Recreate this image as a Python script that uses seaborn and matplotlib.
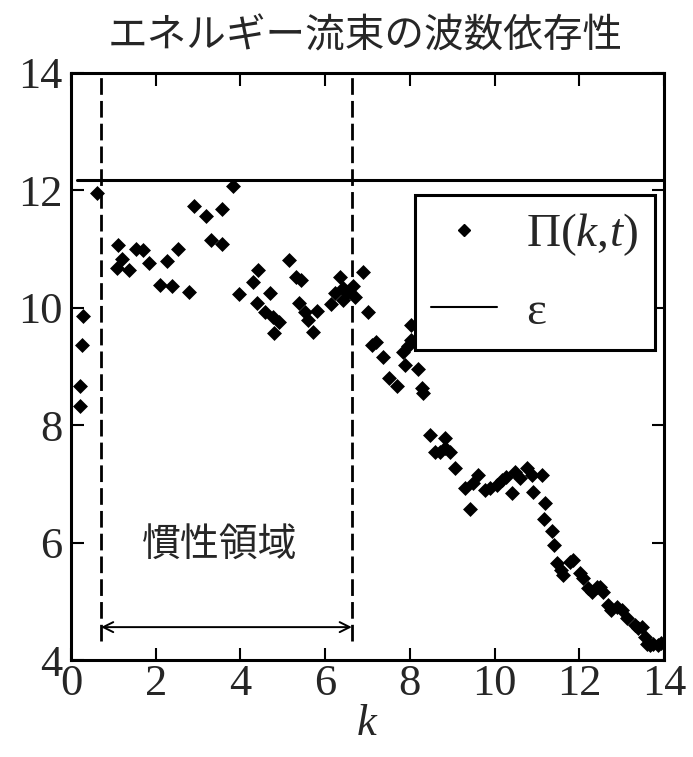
import numpy as np
import pandas as pd
import matplotlib
matplotlib.use("Agg")
import matplotlib.pyplot as plt
import seaborn as sns
from matplotlib.lines import Line2D

# ---- data ----
k_vals = [0.21, 0.21, 0.25, 0.28, 0.61, 1.09, 1.10, 1.21, 1.37, 1.53, 1.69, 1.84,
          2.10, 2.26, 2.38, 2.53, 2.79, 2.90, 3.18, 3.30, 3.57, 3.57, 3.83, 3.97,
          4.30, 4.40, 4.42, 4.58, 4.70, 4.78, 4.80, 4.92, 5.15, 5.31, 5.39, 5.42,
          5.52, 5.60, 5.71, 5.81, 6.15, 6.23, 6.35, 6.43, 6.43, 6.51, 6.66, 6.70,
          6.90, 7.00, 7.11, 7.20, 7.37, 7.51, 7.70, 7.84, 7.88, 7.95, 8.02, 8.02,
          8.20, 8.28, 8.30, 8.47, 8.59, 8.71, 8.83, 8.83, 8.95, 9.07, 9.30, 9.42,
          9.50, 9.62, 9.77, 9.89, 10.05, 10.17, 10.28, 10.40, 10.48, 10.60, 10.76,
          10.88, 10.91, 11.11, 11.19, 11.17, 11.35, 11.40, 11.47, 11.58, 11.61,
          11.78, 11.85, 12.02, 12.09, 12.21, 12.29, 12.41, 12.49, 12.57, 12.68,
          12.76, 12.88, 13.00, 13.12, 13.31, 13.39, 13.47, 13.55, 13.59, 13.67,
          13.75, 13.86, 13.92]
pi_vals = [8.33, 8.67, 9.37, 9.86, 11.95, 10.68, 11.07, 10.83, 10.64, 11.01, 10.98, 10.76,
           10.39, 10.79, 10.37, 11.01, 10.27, 11.73, 11.56, 11.15, 11.68, 11.09, 12.07, 10.23,
           10.44, 10.08, 10.64, 9.93, 10.26, 9.85, 9.57, 9.75, 10.81, 10.52, 10.08, 10.47,
           9.92, 9.80, 9.58, 9.95, 10.06, 10.25, 10.52, 10.33, 10.13, 10.25, 10.37, 10.19,
           10.61, 9.92, 9.37, 9.42, 9.17, 8.80, 8.66, 9.25, 9.03, 9.35, 9.45, 9.71,
           8.95, 8.63, 8.55, 7.83, 7.55, 7.55, 7.78, 7.61, 7.55, 7.27, 6.93, 6.58,
           7.01, 7.15, 6.90, 6.93, 6.98, 7.07, 7.12, 6.84, 7.21, 7.10, 7.27,
           7.15, 6.87, 7.15, 6.67, 6.40, 6.20, 5.96, 5.65, 5.53, 5.45,
           5.67, 5.70, 5.48, 5.39, 5.22, 5.16, 5.25, 5.25, 5.16, 4.94,
           4.85, 4.91, 4.85, 4.71, 4.60, 4.54, 4.57, 4.40, 4.28, 4.26,
           4.28, 4.26, 4.29]
epsilon = 12.18
inertial_range = [0.71, 6.63]
x_ticks = [0, 2, 4, 6, 8, 10, 12, 14]
y_ticks = [4, 6, 8, 10, 12, 14]
title = "エネルギー流束の波数依存性"
region_label = "慣性領域"

df = pd.DataFrame({"k": k_vals, "Pi": pi_vals})

sns.set_theme(style="ticks")
plt.rcParams["font.family"] = ["Liberation Serif", "Noto Sans CJK JP"]
plt.rcParams["mathtext.fontset"] = "custom"
plt.rcParams["mathtext.rm"] = "Liberation Serif"
plt.rcParams["mathtext.it"] = "Liberation Serif:italic"

fig = plt.figure(figsize=(6.93, 7.57), dpi=100)
ax = fig.add_axes([71 / 693, 1 - 660 / 757, (664 - 71) / 693, (660 - 73) / 757])

# epsilon line
eps_df = pd.DataFrame({"k": [0.15, 14.0], "e": [epsilon, epsilon]})
sns.lineplot(data=eps_df, x="k", y="e", color="black", lw=2.2, ax=ax, legend=False)

# dashed inertial range boundaries
for xv in inertial_range:
    ax.plot([xv, xv], [4.33, 14], color="black", lw=2.0, linestyle=(0, (6, 2.2)))

# arrow
ax.annotate("", xy=(inertial_range[0], 4.56), xytext=(inertial_range[1], 4.56),
            arrowprops=dict(arrowstyle="<->", color="black", lw=1.4,
                            shrinkA=0, shrinkB=0, mutation_scale=18))
ax.text(3.52, 5.96, region_label, family=["Noto Sans CJK JP"], fontsize=28,
        ha="center", va="center")

# data points
sns.scatterplot(data=df, x="k", y="Pi", marker="D", color="black", s=58,
                edgecolor="black", linewidth=0, ax=ax, legend=False, zorder=3)

ax.set_xlim(0, 14)
ax.set_ylim(4, 14)
ax.set_xticks(x_ticks)
ax.set_yticks(y_ticks)
ax.tick_params(direction="in", length=9, width=1.5, labelsize=32, color="black",
               top=True, right=True, pad=3)
ax.tick_params(axis="y", pad=6)
for s in ax.spines.values():
    s.set_linewidth(2.2)
    s.set_color("black")
ax.set_xlabel("$k$", fontsize=32, labelpad=0)
ax.set_ylabel("")
fig.text(365 / 693, 1 - 36 / 757, title, family=["Noto Sans CJK JP"], fontsize=28.5,
         ha="center", va="center")

handles = [Line2D([], [], marker="D", color="black", linestyle="none", markersize=6),
           Line2D([], [], color="black", lw=1.5)]
leg = ax.legend(handles, [r"$\Pi(k,\!t)$", "ε"], loc="upper right",
                bbox_to_anchor=((655 - 71) / (664 - 71), (660 - 195) / (660 - 73)),
                fontsize=34, frameon=True, fancybox=False, framealpha=1,
                edgecolor="black", handlelength=1.4, handletextpad=0.6,
                borderpad=0.35, labelspacing=0.68, borderaxespad=0)
leg.get_frame().set_linewidth(2.2)

fig.savefig("out.png", dpi=100)
